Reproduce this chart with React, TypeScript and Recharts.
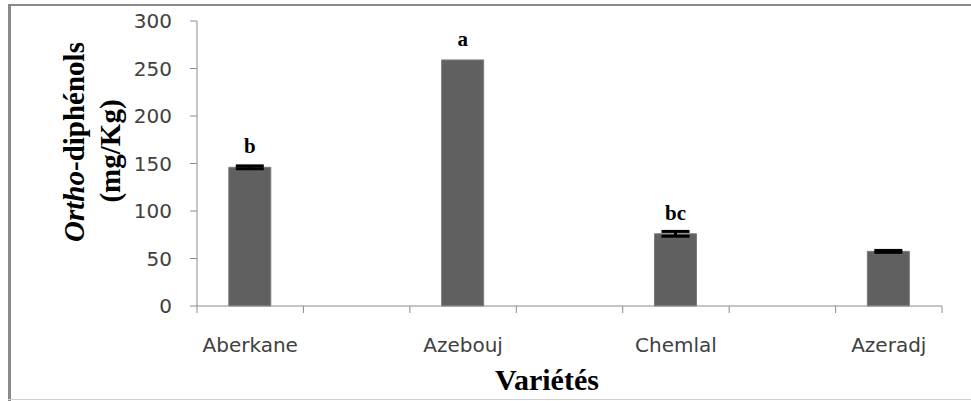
import React from 'react';
import { BarChart, Bar, XAxis, YAxis, ErrorBar, LabelList } from 'recharts';

const varieties = ['Aberkane', 'Azebouj', 'Chemlal', 'Azeradj'];
const values = [146, 259, 76, 57.5];
const errors: (number | null)[] = [1.5, null, 2.5, 1];
const letters = ['b', 'a', 'bc', ''];
// each variety sits in every other slot of a 7-slot axis
const slots = [0, 2, 4, 6];
const slotCount = 7;
const yTicks = [0, 50, 100, 150, 200, 250, 300];

const data = varieties.map((name, i) => ({
  name,
  x: slots[i] + 0.5,
  value: values[i],
  err: errors[i],
  sig: letters[i],
}));

const xTicks: number[] = [];
for (let i = 0; i <= slotCount * 2; i++) xTicks.push(i / 2);

const AXIS = '#8c8c8c';
const TICK_FONT = 'DejaVu Sans';

const XTick = (props: any) => {
  const { x, y, payload } = props;
  const v = payload.value;
  if (Number.isInteger(v)) {
    return <line x1={x} x2={x} y1={y} y2={y + 7} stroke={AXIS} strokeWidth={1} />;
  }
  const d = data.find((e) => e.x === v);
  if (!d) return null;
  return (
    <text x={x} y={y + 46} textAnchor="middle" fontFamily={TICK_FONT} fontSize={20} fill="#404040">
      {d.name}
    </text>
  );
};

const YLabel = () => (
  <g>
    <text
      x={74}
      y={142}
      transform="rotate(-90, 74, 142)"
      textAnchor="middle"
      dominantBaseline="central"
      fontFamily="Liberation Serif"
      fontWeight="bold"
      fontSize={29}
      fill="#000"
    >
      <tspan fontStyle="italic">Ortho</tspan>-diphénols
    </text>
    <text
      x={110}
      y={151}
      transform="rotate(-90, 110, 151)"
      textAnchor="middle"
      dominantBaseline="central"
      fontFamily="Liberation Serif"
      fontWeight="bold"
      fontSize={29}
      fill="#000"
    >
      (mg/Kg)
    </text>
  </g>
);

const XLabel = () => (
  <text
    x={547}
    y={390}
    textAnchor="middle"
    fontFamily="Liberation Serif"
    fontWeight="bold"
    fontSize={30}
    fill="#000"
  >
    Variétés
  </text>
);

export default function App() {
  return (
    <div style={{ position: 'absolute', left: 0, top: 0, width: 971, height: 401, background: '#fff' }}>
      <div style={{ position: 'absolute', left: 8, top: 4, width: 963, height: 2, background: '#8a8a8a' }} />
      <div style={{ position: 'absolute', left: 8, top: 4, width: 3, height: 397, background: '#8a8a8a' }} />
      <div style={{ position: 'absolute', left: 8, top: 399, width: 963, height: 1, background: '#d0d0d0' }} />
      <div style={{ position: 'absolute', left: 0, top: 0 }}>
        <BarChart width={971} height={401} data={data} margin={{ top: 21, right: 29, left: 0, bottom: 0 }}>
          <XAxis
            dataKey="x"
            type="number"
            domain={[0, slotCount]}
            ticks={xTicks}
            interval={0}
            allowDataOverflow
            tickLine={false}
            tickSize={0}
            tickMargin={0}
            tick={<XTick />}
            axisLine={{ stroke: AXIS, strokeWidth: 1 }}
            height={95}
            label={<XLabel />}
          />
          <YAxis
            type="number"
            domain={[0, 300]}
            ticks={yTicks}
            interval={0}
            width={197}
            tickSize={7}
            tickMargin={18}
            tickLine={{ stroke: AXIS }}
            axisLine={{ stroke: AXIS, strokeWidth: 1 }}
            tick={{ fontFamily: TICK_FONT, fontSize: 20, fill: '#404040' }}
            label={<YLabel />}
          />
          <Bar dataKey="value" barSize={42} fill="#606060" stroke="#7a7a7a" strokeWidth={1} isAnimationActive={false}>
            <ErrorBar dataKey="err" width={14} stroke="#000" strokeWidth={3} direction="y" />
            <LabelList
              dataKey="sig"
              position="top"
              offset={14}
              fill="#000"
              fontFamily="Liberation Serif"
              fontWeight="bold"
              fontSize={21}
            />
          </Bar>
        </BarChart>
      </div>
    </div>
  );
}
